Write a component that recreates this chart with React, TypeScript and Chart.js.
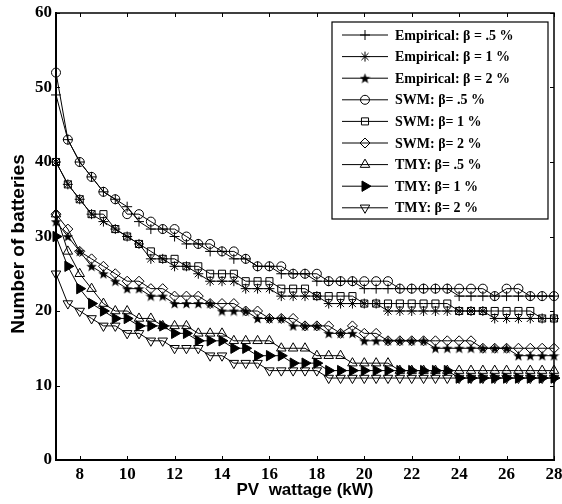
import React, { useEffect, useRef } from 'react';
import { Chart, registerables } from 'chart.js';
import { drawPoint } from 'chart.js/helpers';

Chart.register(...registerables);

// ---------- data ----------
const pvWattage = [7, 7.5, 8, 8.5, 9, 9.5, 10, 10.5, 11, 11.5, 12, 12.5, 13, 13.5, 14, 14.5, 15, 15.5, 16, 16.5, 17, 17.5, 18, 18.5, 19, 19.5, 20, 20.5, 21, 21.5, 22, 22.5, 23, 23.5, 24, 24.5, 25, 25.5, 26, 26.5, 27, 27.5, 28];

const empirical05 = [49, 43, 40, 38, 36, 35, 34, 32, 31, 31, 30, 29, 29, 28, 28, 27, 27, 26, 26, 25, 25, 25, 24, 24, 24, 24, 23, 23, 23, 23, 23, 23, 23, 23, 22, 22, 22, 22, 22, 22, 22, 22, 22];
const empirical1 = [40, 37, 35, 33, 32, 31, 30, 29, 27, 27, 26, 26, 25, 24, 24, 24, 23, 23, 23, 22, 22, 22, 22, 21, 21, 21, 21, 21, 20, 20, 20, 20, 20, 20, 20, 20, 20, 19, 19, 19, 19, 19, 19];
const empirical2 = [32, 30, 28, 26, 25, 24, 23, 23, 22, 22, 21, 21, 21, 21, 20, 20, 20, 19, 19, 19, 18, 18, 18, 17, 17, 17, 16, 16, 16, 16, 16, 16, 15, 15, 15, 15, 15, 15, 15, 14, 14, 14, 14];
const swm05 = [52, 43, 40, 38, 36, 35, 33, 33, 32, 31, 31, 30, 29, 29, 28, 28, 27, 26, 26, 26, 25, 25, 25, 24, 24, 24, 24, 24, 24, 23, 23, 23, 23, 23, 23, 23, 23, 22, 23, 23, 22, 22, 22];
const swm1 = [40, 37, 35, 33, 33, 31, 30, 29, 28, 27, 27, 26, 26, 25, 25, 25, 24, 24, 24, 23, 23, 23, 22, 22, 22, 22, 21, 21, 21, 21, 21, 21, 21, 21, 20, 20, 20, 20, 20, 20, 20, 19, 19];
const swm2 = [33, 31, 28, 27, 26, 25, 24, 24, 23, 23, 22, 22, 22, 21, 21, 21, 20, 20, 19, 19, 19, 18, 18, 18, 17, 18, 17, 17, 16, 16, 16, 16, 16, 16, 16, 16, 15, 15, 15, 15, 15, 15, 15];
const tmy05 = [33, 28, 25, 23, 21, 20, 20, 19, 19, 18, 18, 18, 17, 17, 17, 16, 16, 16, 16, 15, 15, 15, 14, 14, 14, 13, 13, 13, 13, 12, 12, 12, 12, 12, 12, 12, 12, 12, 12, 12, 12, 12, 12];
const tmy1 = [30, 26, 23, 21, 20, 19, 19, 18, 18, 18, 17, 17, 16, 16, 16, 15, 15, 14, 14, 14, 13, 13, 13, 12, 12, 12, 12, 12, 12, 12, 12, 12, 12, 12, 11, 11, 11, 11, 11, 11, 11, 11, 11];
const tmy2 = [25, 21, 20, 19, 18, 18, 17, 17, 16, 16, 15, 15, 15, 14, 14, 13, 13, 13, 12, 12, 12, 12, 12, 11, 11, 11, 11, 11, 11, 11, 11, 11, 11, 11, 11, 11, 11, 11, 11, 11, 11, 11, 11];

const seriesLabels = [
  'Empirical: β = .5 %',
  'Empirical: β = 1 %',
  'Empirical: β = 2 %',
  'SWM: β= .5 %',
  'SWM: β= 1 %',
  'SWM: β= 2 %',
  'TMY: β= .5 %',
  'TMY: β= 1 %',
  'TMY: β= 2 %',
];
const seriesValues = [empirical05, empirical1, empirical2, swm05, swm1, swm2, tmy05, tmy1, tmy2];

const xTickValues = [8, 10, 12, 14, 16, 18, 20, 22, 24, 26, 28];
const yTickValues = [0, 10, 20, 30, 40, 50, 60];

const xTitle = 'PV  wattage (kW)';
const yTitle = 'Number of batteries';

// ---------- styles ----------
function makeFilledStar(size: number): HTMLCanvasElement {
  const c = document.createElement('canvas');
  c.width = size;
  c.height = size;
  const ctx = c.getContext('2d')!;
  const cx = size / 2;
  const cy = size / 2 + 0.5;
  const R = size / 2;
  const r = R * 0.42;
  ctx.beginPath();
  for (let i = 0; i < 10; i++) {
    const a = (i * Math.PI) / 5 - Math.PI / 2;
    const rr = i % 2 === 0 ? R : r;
    ctx.lineTo(cx + rr * Math.cos(a), cy + rr * Math.sin(a));
  }
  ctx.closePath();
  ctx.fillStyle = '#000';
  ctx.fill();
  return c;
}

type MarkerDef = { style: any; radius: number; rotation: number; filled: boolean };

export default function App() {
  const canvasRef = useRef<HTMLCanvasElement | null>(null);

  useEffect(() => {
    const canvas = canvasRef.current;
    if (!canvas) return;

    const starImg = makeFilledStar(11);
    const markers: MarkerDef[] = [
      { style: 'cross', radius: 5, rotation: 0, filled: false },
      { style: 'star', radius: 5, rotation: 0, filled: false },
      { style: starImg, radius: 5, rotation: 0, filled: true },
      { style: 'circle', radius: 4.5, rotation: 0, filled: false },
      { style: 'rect', radius: 5, rotation: 0, filled: false },
      { style: 'rectRot', radius: 5, rotation: 0, filled: false },
      { style: 'triangle', radius: 5.5, rotation: 0, filled: false },
      { style: 'triangle', radius: 6, rotation: 90, filled: true },
      { style: 'triangle', radius: 5.5, rotation: 180, filled: false },
    ];

    const datasets = seriesValues.map((vals, i) => ({
      label: seriesLabels[i],
      data: pvWattage.map((x, j) => ({ x, y: vals[j] })),
      borderColor: '#000',
      borderWidth: 1,
      tension: 0,
      fill: false,
      clip: false as any,
      pointStyle: markers[i].style,
      pointRadius: markers[i].radius,
      pointRotation: markers[i].rotation,
      pointBorderColor: '#000',
      pointBorderWidth: 1,
      pointBackgroundColor: markers[i].filled ? '#000' : 'rgba(0,0,0,0)',
    }));

    const framePlugin = {
      id: 'frameTicks',
      afterDatasetsDraw(chart: any) {
        const { ctx, chartArea, scales } = chart;
        const { left, right, top, bottom } = chartArea;
        ctx.save();
        ctx.strokeStyle = '#000';
        ctx.lineWidth = 1.5;
        ctx.beginPath();
        ctx.moveTo(left, top);
        ctx.lineTo(right, top);
        ctx.lineTo(right, bottom);
        ctx.stroke();
        ctx.lineWidth = 1;
        ctx.beginPath();
        for (const v of xTickValues) {
          const px = Math.round(scales.x.getPixelForValue(v)) + 0.5;
          ctx.moveTo(px, bottom);
          ctx.lineTo(px, bottom - 4);
          ctx.moveTo(px, top);
          ctx.lineTo(px, top + 4);
        }
        for (const v of yTickValues) {
          const py = Math.round(scales.y.getPixelForValue(v)) + 0.5;
          ctx.moveTo(left, py);
          ctx.lineTo(left + 4, py);
          ctx.moveTo(right, py);
          ctx.lineTo(right - 4, py);
        }
        ctx.stroke();
        ctx.restore();
      },
    };

    const legendPlugin = {
      id: 'boxLegend',
      afterDraw(chart: any) {
        const { ctx } = chart;
        // y axis title (placed slightly below centre, as in the reference)
        ctx.save();
        ctx.fillStyle = '#000';
        ctx.font = 'bold 19px "Liberation Sans", Arial, sans-serif';
        ctx.textAlign = 'center';
        ctx.textBaseline = 'middle';
        ctx.translate(19, 244);
        ctx.rotate(-Math.PI / 2);
        ctx.fillText(yTitle, 0, 0);
        ctx.restore();

        const bx = 332;
        const by = 22;
        const bw = 216;
        const bh = 197;
        ctx.save();
        ctx.fillStyle = '#fff';
        ctx.fillRect(bx, by, bw, bh);
        ctx.strokeStyle = '#000';
        ctx.lineWidth = 1.2;
        ctx.strokeRect(bx, by, bw, bh);
        ctx.font = 'bold 14px "Liberation Serif", "Times New Roman", serif';
        ctx.textBaseline = 'middle';
        ctx.textAlign = 'left';
        seriesLabels.forEach((label, i) => {
          const y = 35 + i * 21.6;
          ctx.strokeStyle = '#000';
          ctx.lineWidth = 1;
          ctx.beginPath();
          ctx.moveTo(342, y);
          ctx.lineTo(388, y);
          ctx.stroke();
          const m = markers[i];
          ctx.fillStyle = m.filled ? '#000' : 'rgba(0,0,0,0)';
          ctx.strokeStyle = '#000';
          ctx.lineWidth = 1;
          drawPoint(ctx, { pointStyle: m.style, radius: m.radius, rotation: m.rotation, borderWidth: 1 } as any, 365, y);
          ctx.fillStyle = '#000';
          ctx.fillText(label, 395, y + 1);
        });
        ctx.restore();
      },
    };

    const serifBold = { family: '"Liberation Serif", "Times New Roman", serif', weight: 'bold' as const, size: 17 };
    const sansBold = { family: '"Liberation Sans", Arial, sans-serif', weight: 'bold' as const };

    const chart = new Chart(canvas, {
      type: 'line',
      data: { datasets: datasets as any },
      plugins: [framePlugin, legendPlugin],
      options: {
        animation: false,
        responsive: false,
        devicePixelRatio: 1,
        layout: { padding: { top: 13, right: 8, left: 0, bottom: 0 } },
        plugins: { legend: { display: false }, tooltip: { enabled: false } },
        scales: {
          x: {
            type: 'linear',
            min: 7,
            max: 28,
            afterBuildTicks: (s: any) => {
              s.ticks = xTickValues.map((v) => ({ value: v }));
            },
            afterFit: (s: any) => {
              s.height = 44;
              s.paddingLeft = 0;
              s.paddingRight = 0;
            },
            grid: { drawOnChartArea: false, drawTicks: false },
            border: { display: true, color: '#000', width: 2 },
            ticks: { color: '#000', font: serifBold, padding: 4, maxRotation: 0, autoSkip: false },
            title: {
              display: true,
              text: xTitle,
              color: '#000',
              font: { ...sansBold, size: 17 },
              padding: { top: 3, bottom: 3 },
            },
          },
          y: {
            type: 'linear',
            min: 0,
            max: 60,
            afterBuildTicks: (s: any) => {
              s.ticks = yTickValues.map((v) => ({ value: v }));
            },
            afterFit: (s: any) => {
              s.width = 56;
              s.paddingTop = 0;
              s.paddingBottom = 0;
            },
            grid: { drawOnChartArea: false, drawTicks: false },
            border: { display: true, color: '#000', width: 2 },
            ticks: { color: '#000', font: serifBold, padding: 4 },
            title: { display: false },
          },
        },
      },
    });

    return () => {
      chart.destroy();
    };
  }, []);

  return (
    <div style={{ position: 'fixed', left: 0, top: 0, width: 562, height: 504, background: '#fff' }}>
      <canvas ref={canvasRef} width={562} height={504} style={{ width: 562, height: 504, display: 'block' }} />
    </div>
  );
}
